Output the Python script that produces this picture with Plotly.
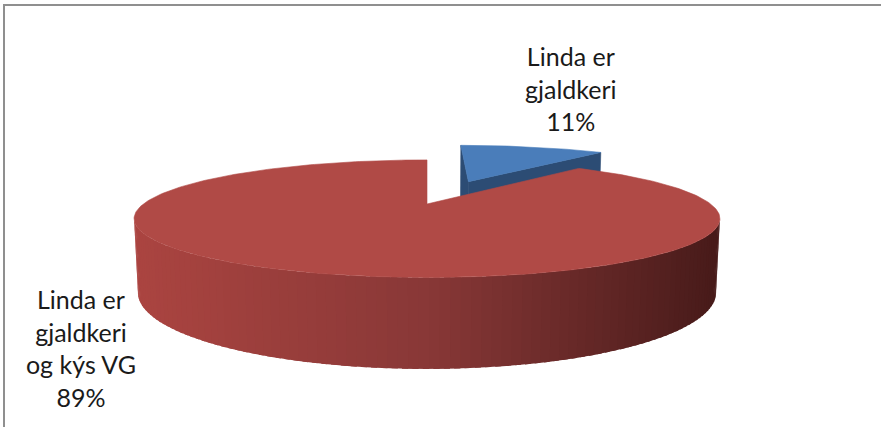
import numpy as np
import plotly.graph_objects as go

# ---------------- data ----------------
slice_labels = ["Linda er<br>gjaldkeri", "Linda er<br>gjaldkeri<br>og kýs VG"]
values = [11, 89]
explode = [0.48, 0.0]

# ---------------- styles ----------------
top_colors = ["#4A7DBA", "#B04A46"]
cut_colors = ["#2C4C74", "#7E3431"]
wall_stops_x = [130, 430, 715]
wall_stops_rgb = [(172, 69, 65), (136, 56, 55), (72, 27, 26)]
blue_wall = "#2C4C74"
label_pos = [(571, 88), (81, 348)]

W, H = 881, 427
CX, CY = 427, 204
K = 1113.0
DIST = 3.924
PHI = np.radians(11.2)
THICK = 0.254
cphi, sphi = np.cos(PHI), np.sin(PHI)
CAM = np.array([0.0, DIST * sphi, DIST * cphi])


def proj(X, Y, Z):
    X = np.asarray(X, float); Y = np.asarray(Y, float); Z = np.asarray(Z, float)
    depth = DIST - Y * sphi - Z * cphi
    return CX + K * X / depth, CY - K * (Y * cphi - Z * sphi) / depth


def wall_color(x):
    r = np.interp(x, wall_stops_x, [c[0] for c in wall_stops_rgb])
    g = np.interp(x, wall_stops_x, [c[1] for c in wall_stops_rgb])
    b = np.interp(x, wall_stops_x, [c[2] for c in wall_stops_rgb])
    return f"rgb({int(r)},{int(g)},{int(b)})"


fig = go.Figure()


def poly(xs, ys, color, lw=0.6):
    fig.add_trace(go.Scatter(
        x=list(xs) + [xs[0]], y=list(ys) + [ys[0]], mode="lines",
        fill="toself", fillcolor=color, line=dict(color=color, width=lw),
        hoverinfo="skip", showlegend=False))


total = float(sum(values))
fr = np.array(values, float) / total
ends = np.cumsum(fr) * 2 * np.pi
starts = ends - fr * 2 * np.pi

# draw order: slices further back first (blue at the back)
order = sorted(range(len(values)), key=lambda i: -np.cos((starts[i] + ends[i]) / 2))
for i in order:
    a0, a1 = starts[i], ends[i]
    mid = (a0 + a1) / 2
    ox, oz = explode[i] * np.sin(mid), -explode[i] * np.cos(mid)
    # cut faces
    for a, sgn in ((a0, -1), (a1, 1)):
        n = sgn * np.array([np.cos(a), 0, np.sin(a)])
        P = np.array([ox, 0, oz])
        if np.dot(CAM - P, n) > 1e-6:
            X = [ox, ox + np.sin(a), ox + np.sin(a), ox]
            Y = [0, 0, -THICK, -THICK]
            Z = [oz, oz - np.cos(a), oz - np.cos(a), oz]
            sx, sy = proj(X, Y, Z)
            poly(sx, sy, cut_colors[i])
    # outer wall strips (each overlaps the next a little to hide seams)
    aa = np.linspace(a0, a1, 200)
    step = aa[1] - aa[0]
    for j in range(len(aa) - 1):
        am = (aa[j] + aa[j + 1]) / 2
        P = np.array([ox + np.sin(am), 0, oz - np.cos(am)])
        n = np.array([np.sin(am), 0, -np.cos(am)])
        if np.dot(CAM - P, n) <= 0:
            continue
        b0, b1 = aa[j], min(aa[j + 1] + 0.6 * step, a1)
        seg = np.linspace(b0, b1, 4)
        X = np.concatenate([ox + np.sin(seg), ox + np.sin(seg[::-1])])
        Z = np.concatenate([oz - np.cos(seg), oz - np.cos(seg[::-1])])
        Y = np.concatenate([np.zeros(4), -THICK * np.ones(4)])
        sx, sy = proj(X, Y, Z)
        col = wall_color(np.mean(sx)) if i == 1 else blue_wall
        poly(sx, sy, col, lw=0)
    # top face
    arc = np.linspace(a0, a1, 300)
    X = np.concatenate([[ox], ox + np.sin(arc)])
    Z = np.concatenate([[oz], oz - np.cos(arc)])
    sx, sy = proj(X, np.zeros_like(X), Z)
    poly(sx, sy, top_colors[i])

# labels
for i, lab in enumerate(slice_labels):
    pct = f"{round(values[i] / total * 100)}%"
    fig.add_annotation(x=label_pos[i][0], y=label_pos[i][1], xref="x", yref="y",
                       text=f"{lab}<br>{pct}", showarrow=False, align="center",
                       font=dict(family="Lato", size=25, color="#1a1a1a"))

# chart frame
fig.add_shape(type="rect", xref="x", yref="y", x0=4, y0=5, x1=W + 20, y1=H + 20,
              line=dict(color="#8f8f8f", width=2), layer="above")

fig.update_layout(
    width=W, height=H, margin=dict(l=0, r=0, t=0, b=0),
    paper_bgcolor="white", plot_bgcolor="white", showlegend=False,
    xaxis=dict(range=[0, W], visible=False, fixedrange=True),
    yaxis=dict(range=[H, 0], visible=False, fixedrange=True),
)
fig.write_html("out.html", config={"displayModeBar": False},
               post_script="document.body.style.margin='0px';")
